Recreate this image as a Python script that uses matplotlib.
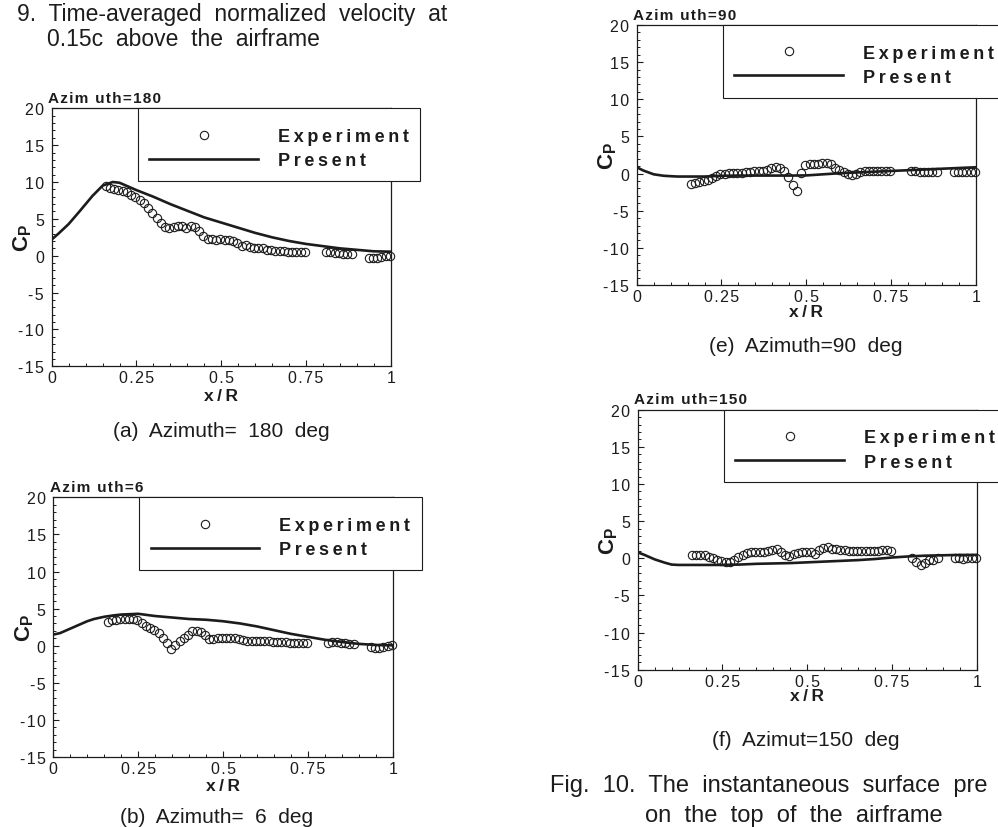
import matplotlib
matplotlib.use("Agg")
import matplotlib.pyplot as plt
from matplotlib.lines import Line2D
from matplotlib.ticker import MultipleLocator, FuncFormatter

plt.rcParams['font.family'] = ['Liberation Sans', 'DejaVu Sans']
plt.rcParams['axes.unicode_minus'] = False
plt.rcParams['mathtext.fontset'] = 'custom'
plt.rcParams['mathtext.rm'] = 'Liberation Sans'
plt.rcParams['mathtext.bf'] = 'Liberation Sans:bold'

INK = '#1c1c1c'
THIN = '\u2009'
HAIR = '\u200a'

# pressure tap positions (experiment), x/R
x_taps = [0.160, 0.172, 0.185, 0.197, 0.210, 0.222, 0.235, 0.247, 0.260, 0.272,
          0.285, 0.297, 0.310, 0.322, 0.335, 0.347, 0.360, 0.372, 0.385, 0.397,
          0.410, 0.422, 0.435, 0.447, 0.460, 0.472, 0.485, 0.497, 0.510, 0.522,
          0.535, 0.547, 0.560, 0.572, 0.585, 0.597, 0.610, 0.622, 0.635, 0.647,
          0.660, 0.672, 0.685, 0.697, 0.710, 0.722, 0.735, 0.747,
          0.810, 0.822, 0.835, 0.847, 0.860, 0.872, 0.885,
          0.935, 0.947, 0.960, 0.972, 0.985, 0.997]

cp_exp_180 = [9.4, 9.2, 9.0, 8.9, 8.8, 8.6, 8.3, 8.0, 7.6, 7.1,
              6.5, 5.8, 5.1, 4.5, 3.9, 3.7, 3.9, 4.0, 4.0, 3.8,
              4.1, 3.9, 3.3, 2.7, 2.3, 2.3, 2.2, 2.3, 2.1, 2.1,
              2.0, 1.7, 1.3, 1.4, 1.2, 1.1, 1.0, 1.0, 0.8, 0.8,
              0.7, 0.7, 0.6, 0.5, 0.5, 0.5, 0.5, 0.5,
              0.5, 0.5, 0.4, 0.4, 0.3, 0.2, 0.3,
              -0.3, -0.3, -0.3, -0.2, -0.1, 0.0]

cp_exp_6 = [3.2, 3.4, 3.5, 3.6, 3.6, 3.6, 3.6, 3.5, 3.1, 2.7,
            2.4, 2.1, 1.7, 1.1, 0.3, -0.4, 0.1, 0.6, 1.0, 1.4,
            2.0, 2.0, 1.8, 1.4, 0.9, 0.9, 1.1, 1.1, 1.1, 1.0,
            1.0, 0.9, 0.8, 0.7, 0.7, 0.7, 0.6, 0.6, 0.6, 0.5,
            0.5, 0.5, 0.5, 0.4, 0.4, 0.4, 0.4, 0.4,
            0.4, 0.5, 0.5, 0.4, 0.4, 0.2, 0.2,
            -0.2, -0.3, -0.3, -0.2, -0.1, 0.1]

cp_exp_90 = [-1.4, -1.3, -1.2, -1.0, -0.9, -0.6, -0.3, -0.1, 0.0, 0.1,
             0.1, 0.1, 0.1, 0.2, 0.2, 0.4, 0.4, 0.4, 0.5, 0.7,
             0.9, 0.7, 0.3, -0.4, -1.5, -2.3, 0.1, 1.1, 1.3, 1.3,
             1.3, 1.4, 1.4, 1.3, 0.8, 0.5, 0.2, 0.0, -0.2, 0.0,
             0.2, 0.3, 0.3, 0.3, 0.3, 0.4, 0.3, 0.3,
             0.3, 0.3, 0.2, 0.2, 0.2, 0.2, 0.2,
             0.2, 0.2, 0.2, 0.2, 0.2, 0.2]

cp_exp_150 = [0.4, 0.5, 0.5, 0.4, 0.2, 0.0, -0.2, -0.4, -0.5, -0.5,
              -0.2, 0.2, 0.5, 0.7, 0.8, 0.8, 0.9, 0.9, 1.0, 1.1,
              1.3, 0.9, 0.5, 0.3, 0.6, 0.7, 0.9, 0.9, 0.8, 0.6,
              1.1, 1.4, 1.5, 1.3, 1.2, 1.1, 1.1, 1.0, 1.0, 1.0,
              1.0, 1.0, 1.0, 1.0, 1.0, 1.1, 1.1, 1.0,
              0.0, -0.5, -0.9, -0.6, -0.3, -0.2, 0.0,
              0.0, 0.0, -0.1, 0.0, 0.0, 0.0]

# computed ("Present") curves
x_cfd = [0.0, 0.02, 0.05, 0.08, 0.10, 0.12, 0.15, 0.18, 0.20, 0.25, 0.30, 0.35, 0.40,
         0.45, 0.50, 0.55, 0.60, 0.65, 0.70, 0.75, 0.80, 0.85, 0.90, 0.95, 1.00]
cp_cfd_180 = [2.2, 3.0, 4.3, 5.9, 7.0, 8.1, 9.5, 10.0, 9.9, 8.9, 8.0, 7.0, 6.1,
              5.2, 4.5, 3.8, 3.1, 2.5, 2.0, 1.6, 1.3, 1.0, 0.8, 0.6, 0.55]
cp_cfd_6 = [1.5, 1.7, 2.3, 2.9, 3.3, 3.6, 3.9, 4.1, 4.2, 4.3, 4.0, 3.8, 3.6,
            3.5, 3.3, 3.0, 2.6, 2.1, 1.6, 1.2, 0.8, 0.5, 0.25, 0.1, 0.05]
cp_cfd_90 = [0.85, 0.4, -0.1, -0.3, -0.35, -0.4, -0.4, -0.4, -0.4, -0.3, -0.27, -0.27, -0.27,
             -0.27, -0.25, -0.1, 0.05, 0.15, 0.25, 0.35, 0.45, 0.55, 0.65, 0.75, 0.85]
cp_cfd_150 = [0.8, 0.45, -0.15, -0.6, -0.85, -0.9, -0.9, -0.9, -0.9, -0.9, -0.85, -0.75, -0.7,
              -0.65, -0.55, -0.45, -0.35, -0.25, -0.1, 0.1, 0.25, 0.35, 0.4, 0.45, 0.45]

azimuth_labels = ['Azim uth=180', 'Azim uth=6', 'Azim uth=90', 'Azim uth=150']
captions = ['(a)  Azimuth=  180  deg', '(b)  Azimuth=  6  deg',
            '(e)  Azimuth=90  deg', '(f)  Azimut=150  deg']


def spaced(s, gap=THIN):
    return gap.join(s)


fig = plt.figure(figsize=(9.98, 8.28), dpi=100, facecolor='white')

# axes rectangles, caption anchor, x-label offset for each panel
panels = [
    ([0.0518, 0.5564, 0.3397, 0.3116], cp_exp_180, cp_cfd_180, (0.2215, 0.4726), -0.084),
    ([0.0534, 0.0845, 0.3401, 0.3137], cp_exp_6, cp_cfd_6, (0.2174, 0.0064), -0.081),
    ([0.6380, 0.6546, 0.3397, 0.3140], cp_exp_90, cp_cfd_90, (0.8076, 0.5749), -0.073),
    ([0.6390, 0.1900, 0.3397, 0.3140], cp_exp_150, cp_cfd_150, (0.8076, 0.0990), -0.070),
]

for i, (rect, exp, cfd, cap_xy, xlab_y) in enumerate(panels):
    ax = fig.add_axes(rect)
    ax.plot(x_cfd, cfd, color=INK, lw=1.9, zorder=3)
    ax.plot(x_taps, exp, ls='none', marker='o', ms=6, mfc='none', mec=INK,
            mew=0.8, zorder=4, clip_on=False)

    ax.set_xlim(0, 1)
    ax.set_ylim(-15, 20)
    ax.xaxis.set_major_locator(MultipleLocator(0.25))
    ax.xaxis.set_minor_locator(MultipleLocator(0.05))
    ax.yaxis.set_major_locator(MultipleLocator(5))
    ax.yaxis.set_minor_locator(MultipleLocator(1))
    fmt = FuncFormatter(lambda v, p: spaced(f'{v:g}', HAIR))
    ax.xaxis.set_major_formatter(fmt)
    ax.yaxis.set_major_formatter(fmt)
    ax.tick_params(which='both', direction='in', top=False, right=False,
                   colors=INK, labelsize=11.5)
    ax.tick_params(which='major', length=4.5, width=0.8)
    ax.tick_params(which='minor', length=2.2, width=0.7)
    ax.tick_params(axis='x', pad=3)
    ax.tick_params(axis='y', pad=5.5)
    for sp in ax.spines.values():
        sp.set_linewidth(0.9)
        sp.set_color(INK)

    ax.set_xlabel(spaced('x/R'), fontsize=12.5, fontweight='bold', color=INK)
    ax.xaxis.set_label_coords(0.5, xlab_y)
    ax.set_ylabel(r'$\mathbf{C}_\mathbf{P}$', fontsize=16, color=INK)
    ax.yaxis.set_label_coords(-0.052, 0.5)

    ax.text(-0.010, 1.024, spaced(azimuth_labels[i], HAIR), transform=ax.transAxes,
            fontsize=11, fontweight='bold', color=INK, va='baseline', ha='left')

    h_exp = Line2D([], [], ls='none', marker='o', ms=6, mfc='none', mec=INK, mew=0.8)
    h_cfd = Line2D([], [], color=INK, lw=1.9)
    leg = ax.legend([h_exp, h_cfd], [spaced('Experiment'), spaced('Present')],
                    loc='upper left', bbox_to_anchor=(0.2535, 1.0), borderaxespad=0,
                    handlelength=6.0, handletextpad=1.1, borderpad=0.65,
                    labelspacing=0.39, numpoints=1, fancybox=False, framealpha=1,
                    edgecolor=INK, prop={'weight': 'bold', 'size': 13},
                    title=' ', title_fontsize=1)
    leg.get_frame().set_linewidth(0.8)
    for t in leg.get_texts():
        t.set_color(INK)

    fig.text(cap_xy[0], cap_xy[1], captions[i], fontsize=15, color=INK,
             ha='center', va='baseline')

# surrounding page text (the page is cropped, so only the visible parts)
fig.text(0.017, 1 - 21 / 828, '9.  Time-averaged  normalized  velocity  at',
         fontsize=16.5, color=INK, va='baseline')
fig.text(0.0471, 1 - 46 / 828, '0.15c  above  the  airframe', fontsize=16.5,
         color=INK, va='baseline')
fig.text(0.5511, 1 - 792 / 828, 'Fig.  10.  The  instantaneous  surface  pre',
         fontsize=17, color=INK, va='baseline')
fig.text(0.6463, 1 - 822 / 828, 'on  the  top  of  the  airframe', fontsize=17,
         color=INK, va='baseline')

fig.savefig('out.png', dpi=100, facecolor='white')
